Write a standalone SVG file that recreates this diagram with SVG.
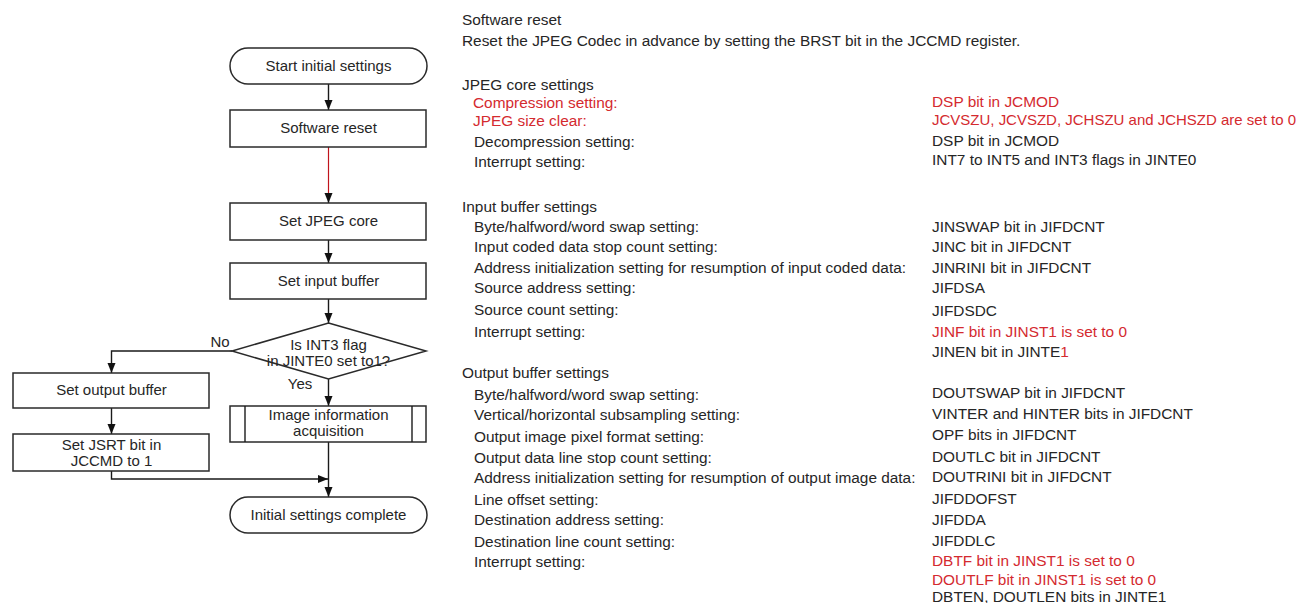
<svg xmlns="http://www.w3.org/2000/svg" width="1301" height="603" viewBox="0 0 1301 603">
<defs>
<style>
text{font-family:"Liberation Sans",Arial,sans-serif;font-size:15px;fill:#262626}
#notes text{font-size:15.4px}
#notes text.tight{font-size:15px}
.c{text-anchor:middle}
.r{fill:#d42a2f}
.box{fill:#fff;stroke:#2a2a2a;stroke-width:1.5}
.ln{fill:none;stroke:#1a1a1a;stroke-width:1.4}
.red{fill:none;stroke:#c0141c;stroke-width:1.2}
</style>
<marker id="ah" markerUnits="userSpaceOnUse" markerWidth="10" markerHeight="10" viewBox="0 0 10 10" refX="10" refY="5" orient="auto">
<path d="M0,1 L10,5 L0,9 Z" fill="#111"/>
</marker>
</defs>
<rect width="1301" height="603" fill="#fff"/>

<g id="connectors">
<line class="ln" x1="328.5" y1="84" x2="328.5" y2="110" marker-end="url(#ah)"/>
<line class="red" x1="328.5" y1="147" x2="328.5" y2="195"/>
<line class="ln" x1="328.5" y1="194" x2="328.5" y2="203" marker-end="url(#ah)"/>
<line class="ln" x1="328.5" y1="240" x2="328.5" y2="263" marker-end="url(#ah)"/>
<line class="ln" x1="328.5" y1="299" x2="328.5" y2="323" marker-end="url(#ah)"/>
<polyline class="ln" points="232,351 111.5,351 111.5,373" marker-end="url(#ah)"/>
<line class="ln" x1="328.5" y1="379" x2="328.5" y2="406" marker-end="url(#ah)"/>
<line class="ln" x1="111.5" y1="408" x2="111.5" y2="434" marker-end="url(#ah)"/>
<polyline class="ln" points="111.5,471 111.5,479 328,479" marker-end="url(#ah)"/>
<line class="ln" x1="328.5" y1="442" x2="328.5" y2="497" marker-end="url(#ah)"/>
<text x="220" y="347" class="c">No</text>
<text x="300" y="389" class="c">Yes</text>
</g>

<g id="start">
<rect class="box" x="230" y="48" width="197" height="36" rx="18"/>
<text x="328.5" y="71" class="c">Start initial settings</text>
</g>
<g id="software-reset">
<rect class="box" x="230" y="110" width="196" height="37"/>
<text x="328.5" y="133" class="c">Software reset</text>
</g>
<g id="set-jpeg-core">
<rect class="box" x="230" y="203" width="196" height="37"/>
<text x="328.5" y="226" class="c">Set JPEG core</text>
</g>
<g id="set-input-buffer">
<rect class="box" x="230" y="263" width="196" height="36"/>
<text x="328.5" y="286" class="c">Set input buffer</text>
</g>
<g id="decision">
<polygon class="box" points="328.5,323 426,351 328.5,379 232,351"/>
<text x="328.5" y="350" class="c">Is INT3 flag</text>
<text x="328.5" y="366" class="c">in JINTE0 set to1?</text>
</g>
<g id="set-output-buffer">
<rect class="box" x="13" y="373" width="196" height="35"/>
<text x="111.5" y="395" class="c">Set output buffer</text>
</g>
<g id="image-info">
<rect class="box" x="230" y="406" width="196" height="36"/>
<line class="ln" x1="245" y1="406" x2="245" y2="442"/>
<line class="ln" x1="412" y1="406" x2="412" y2="442"/>
<text x="328.5" y="420" class="c">Image information</text>
<text x="328.5" y="436" class="c">acquisition</text>
</g>
<g id="set-jsrt">
<rect class="box" x="13" y="434" width="196" height="37"/>
<text x="111.5" y="450" class="c">Set JSRT bit in</text>
<text x="111.5" y="466" class="c">JCCMD to 1</text>
</g>
<g id="complete">
<rect class="box" x="230" y="497" width="197" height="36" rx="18"/>
<text x="328.5" y="520" class="c">Initial settings complete</text>
</g>

<g id="notes">
<text x="462" y="25">Software reset</text>
<text x="462" y="46">Reset the JPEG Codec in advance by setting the BRST bit in the JCCMD register.</text>

<text x="462" y="90">JPEG core settings</text>
<text x="473" y="108" class="r">Compression setting:</text>
<text x="473" y="126" class="r">JPEG size clear:</text>
<text x="474" y="147">Decompression setting:</text>
<text x="474" y="167">Interrupt setting:</text>
<text x="932" y="107" class="r">DSP bit in JCMOD</text>
<text x="932" y="125" class="r tight" textLength="364" lengthAdjust="spacingAndGlyphs">JCVSZU, JCVSZD, JCHSZU and JCHSZD are set to 0</text>
<text x="932" y="146">DSP bit in JCMOD</text>
<text x="932" y="165">INT7 to INT5 and INT3 flags in JINTE0</text>

<text x="462" y="212">Input buffer settings</text>
<text x="474" y="232">Byte/halfword/word swap setting:</text>
<text x="474" y="252">Input coded data stop count setting:</text>
<text x="474" y="273">Address initialization setting for resumption of input coded data:</text>
<text x="474" y="293">Source address setting:</text>
<text x="474" y="315">Source count setting:</text>
<text x="474" y="337">Interrupt setting:</text>
<text x="932" y="232">JINSWAP bit in JIFDCNT</text>
<text x="932" y="252">JINC bit in JIFDCNT</text>
<text x="932" y="273">JINRINI bit in JIFDCNT</text>
<text x="932" y="293">JIFDSA</text>
<text x="932" y="316">JIFDSDC</text>
<text x="932" y="337" class="r">JINF bit in JINST1 is set to 0</text>
<text x="932" y="357">JINEN bit in JINTE<tspan class="r">1</tspan></text>

<text x="462" y="378">Output buffer settings</text>
<text x="474" y="400">Byte/halfword/word swap setting:</text>
<text x="474" y="420">Vertical/horizontal subsampling setting:</text>
<text x="474" y="442">Output image pixel format setting:</text>
<text x="474" y="463">Output data line stop count setting:</text>
<text x="474" y="483">Address initialization setting for resumption of output image data:</text>
<text x="474" y="505">Line offset setting:</text>
<text x="474" y="525">Destination address setting:</text>
<text x="474" y="547">Destination line count setting:</text>
<text x="474" y="567">Interrupt setting:</text>
<text x="932" y="398">DOUTSWAP bit in JIFDCNT</text>
<text x="932" y="419">VINTER and HINTER bits in JIFDCNT</text>
<text x="932" y="440">OPF bits in JIFDCNT</text>
<text x="932" y="462">DOUTLC bit in JIFDCNT</text>
<text x="932" y="482">DOUTRINI bit in JIFDCNT</text>
<text x="932" y="504">JIFDDOFST</text>
<text x="932" y="525">JIFDDA</text>
<text x="932" y="546">JIFDDLC</text>
<text x="932" y="566" class="r">DBTF bit in JINST1 is set to 0</text>
<text x="932" y="585" class="r">DOUTLF bit in JINST1 is set to 0</text>
<text x="932" y="602">DBTEN, DOUTLEN bits in JINTE1</text>
</g>
</svg>
